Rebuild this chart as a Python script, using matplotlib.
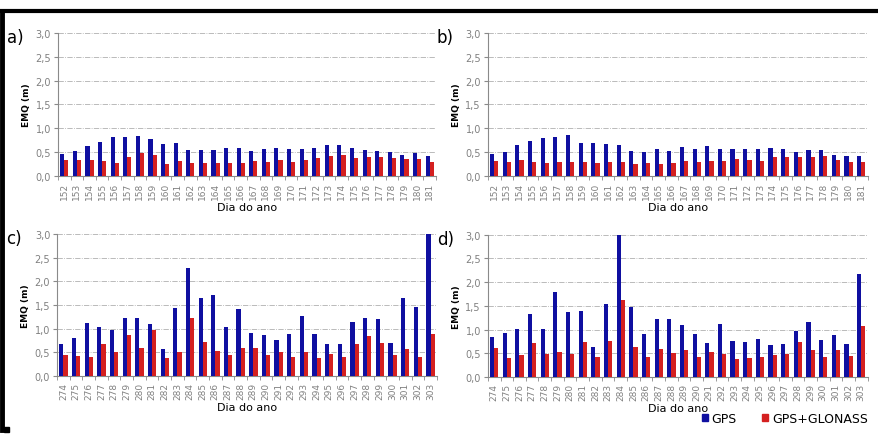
import numpy as np
import matplotlib
matplotlib.use("Agg")
import matplotlib.pyplot as plt
from matplotlib.patches import Patch, Rectangle
from matplotlib.lines import Line2D

########## DATA ##########

days_ab = [str(d) for d in range(152, 182)]
days_cd = [str(d) for d in range(274, 304)]

gps_a = [0.46, 0.53, 0.62, 0.72, 0.82, 0.81, 0.84, 0.77, 0.67, 0.70,
         0.55, 0.54, 0.54, 0.58, 0.58, 0.53, 0.56, 0.58, 0.56, 0.56,
         0.58, 0.65, 0.66, 0.59, 0.54, 0.53, 0.51, 0.44, 0.49, 0.43]
glo_a = [0.33, 0.33, 0.33, 0.32, 0.28, 0.40, 0.49, 0.45, 0.26, 0.32,
         0.27, 0.28, 0.27, 0.27, 0.27, 0.32, 0.30, 0.34, 0.30, 0.33,
         0.38, 0.42, 0.44, 0.37, 0.40, 0.39, 0.37, 0.35, 0.35, 0.29]

gps_b = [0.47, 0.51, 0.66, 0.73, 0.79, 0.82, 0.87, 0.70, 0.70, 0.68,
         0.66, 0.53, 0.51, 0.56, 0.53, 0.60, 0.56, 0.62, 0.56, 0.56,
         0.56, 0.56, 0.58, 0.56, 0.51, 0.54, 0.55, 0.44, 0.41, 0.41]
glo_b = [0.32, 0.29, 0.34, 0.29, 0.27, 0.30, 0.30, 0.29, 0.27, 0.30,
         0.30, 0.25, 0.27, 0.26, 0.27, 0.32, 0.30, 0.32, 0.31, 0.35,
         0.33, 0.32, 0.40, 0.39, 0.39, 0.39, 0.43, 0.34, 0.30, 0.30]

gps_c = [0.67, 0.80, 1.12, 1.03, 0.98, 1.22, 1.22, 1.10, 0.58, 1.44,
         2.28, 1.65, 1.72, 1.03, 1.42, 0.92, 0.87, 0.76, 0.88, 1.27,
         0.88, 0.67, 0.67, 1.15, 1.22, 1.21, 0.69, 1.64, 1.46, 2.99]
glo_c = [0.45, 0.42, 0.40, 0.67, 0.51, 0.86, 0.59, 0.98, 0.38, 0.50,
         1.22, 0.73, 0.52, 0.45, 0.59, 0.59, 0.45, 0.50, 0.40, 0.50,
         0.39, 0.46, 0.40, 0.67, 0.84, 0.70, 0.45, 0.57, 0.40, 0.89]

gps_d = [0.85, 0.93, 1.01, 1.33, 1.01, 1.79, 1.38, 1.39, 0.63, 1.55,
         3.00, 1.47, 0.90, 1.23, 1.23, 1.09, 0.90, 0.71, 1.11, 0.75,
         0.73, 0.80, 0.68, 0.69, 0.96, 1.16, 0.79, 0.89, 0.70, 2.17]
glo_d = [0.62, 0.41, 0.47, 0.72, 0.49, 0.52, 0.48, 0.73, 0.42, 0.75,
         1.62, 0.64, 0.42, 0.59, 0.51, 0.58, 0.42, 0.52, 0.49, 0.39,
         0.41, 0.42, 0.47, 0.48, 0.73, 0.58, 0.42, 0.56, 0.45, 1.07]

blue = "#0f0fa0"
red = "#d42020"
gray = "#8a8a8a"

fig = plt.figure(figsize=(8.79, 4.35), dpi=100)


def panel(rect, days, gps, glo, tag):
    ax = fig.add_axes(rect)
    x = np.arange(len(days))
    w = 0.33
    ax.bar(x - w / 2, gps, width=w, color=blue, zorder=3)
    ax.bar(x + w / 2, glo, width=w, color=red, zorder=3)
    ax.set_xlim(-0.5, len(days) - 0.5)
    ax.set_ylim(0, 3.0)
    yt = np.arange(0, 3.01, 0.5)
    ax.set_yticks(yt)
    ax.set_yticklabels([("%.1f" % v).replace(".", ",") for v in yt],
                       fontsize=7, color="#808080")
    ax.set_xticks(x)
    ax.set_xticklabels(days, rotation=90, fontsize=6.5, color="#808080")
    ax.set_xticks(np.arange(-0.5, len(days)), minor=True)
    ax.tick_params(axis="x", which="major", length=0, pad=4)
    ax.tick_params(axis="x", which="minor", length=3, color=gray)
    ax.tick_params(axis="y", length=3, color=gray, pad=2)
    ax.grid(axis="y", linestyle="-.", color="#b0b0b0", linewidth=0.6, zorder=0)
    for s in ["top", "right"]:
        ax.spines[s].set_visible(False)
    for s in ["left", "bottom"]:
        ax.spines[s].set_color(gray)
        ax.spines[s].set_linewidth(0.8)
    ax.set_ylabel("EMQ (m)", fontsize=6.5, fontweight="bold", labelpad=3)
    ax.set_xlabel("Dia do ano", fontsize=8, labelpad=2)
    fig.text(rect[0] - 0.058, rect[1] + rect[3] - 0.01, tag, fontsize=12,
             va="center", ha="left")
    return ax


panel([0.066, 0.593, 0.430, 0.329], days_ab, gps_a, glo_a, "a)")
panel([0.555, 0.593, 0.432, 0.329], days_ab, gps_b, glo_b, "b)")
panel([0.065, 0.133, 0.432, 0.327], days_cd, gps_c, glo_c, "c)")
panel([0.555, 0.131, 0.432, 0.327], days_cd, gps_d, glo_d, "d)")

# black frame lines (top and left) like the source figure
fig.add_artist(Line2D([0, 1], [0.972, 0.972], color="black", linewidth=3,
                      transform=fig.transFigure))
fig.add_artist(Line2D([0.002, 0.002], [0.972, 0.01], color="black", linewidth=3.5,
                      transform=fig.transFigure))
fig.add_artist(Rectangle((0.004, 0.005), 0.006, 0.012, color="black",
                         transform=fig.transFigure))

handles = [Patch(color=blue, label="GPS"), Patch(color=red, label="GPS+GLONASS")]
fig.legend(handles=handles, loc="lower right", bbox_to_anchor=(1.0, -0.005),
           ncol=2, frameon=False, fontsize=9, handlelength=0.5, handleheight=0.5,
           handletextpad=0.3, columnspacing=2.0)

fig.savefig("out.png", dpi=100)
